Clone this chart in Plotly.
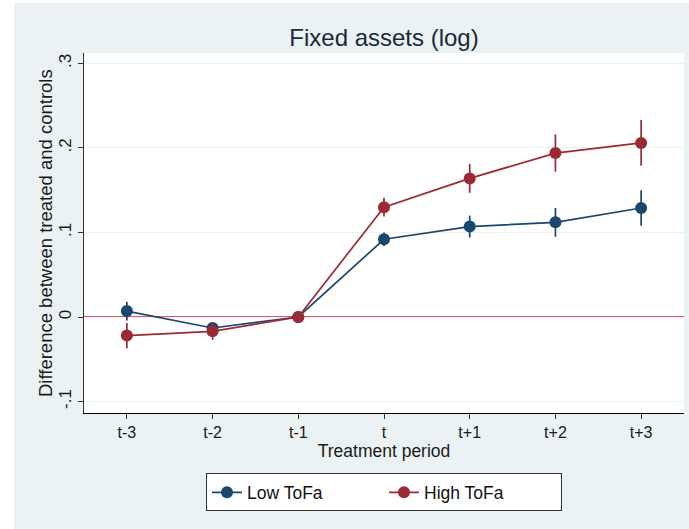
import plotly.graph_objects as go

periods = ["t-3", "t-2", "t-1", "t", "t+1", "t+2", "t+3"]
low_est = [0.007, -0.013, 0.0, 0.092, 0.107, 0.112, 0.129]
low_ci = [0.011, 0.005, 0.0, 0.008, 0.013, 0.017, 0.021]
high_est = [-0.022, -0.017, 0.0, 0.130, 0.164, 0.194, 0.206]
high_ci = [0.015, 0.010, 0.0, 0.011, 0.017, 0.022, 0.027]
y_ticks = [-0.1, 0, 0.1, 0.2, 0.3]
y_tick_labels = ["-.1", "0", ".1", ".2", ".3"]

NAVY = "#1a476f"
MAROON = "#9b2a35"
BG = "#eaf2f3"
FONT = "Liberation Sans, Arial, sans-serif"
TXT = "#1a1a1a"

x_idx = list(range(len(periods)))

fig = go.Figure()
fig.add_trace(go.Scatter(
    x=x_idx, y=low_est, mode="lines+markers", name="Low ToFa",
    line=dict(color=NAVY, width=1.7),
    marker=dict(color=NAVY, size=12, symbol="circle"),
    error_y=dict(type="data", array=low_ci, color=NAVY, thickness=1.7, width=0),
))
fig.add_trace(go.Scatter(
    x=x_idx, y=high_est, mode="lines+markers", name="High ToFa",
    line=dict(color=MAROON, width=1.7),
    marker=dict(color=MAROON, size=12, symbol="circle"),
    error_y=dict(type="data", array=high_ci, color=MAROON, thickness=1.7, width=0),
))

# reference line at zero
fig.add_shape(type="line", xref="paper", yref="y", x0=0, x1=1, y0=0, y1=0,
              line=dict(color="#dc1e35", width=1.7), layer="below")

# white outer strips (left and top)
fig.add_shape(type="rect", xref="paper", yref="paper",
              x0=-0.2, x1=-0.1167, y0=-0.5, y1=1.3,
              fillcolor="white", line=dict(width=0), layer="below")
fig.add_shape(type="rect", xref="paper", yref="paper",
              x0=-0.2, x1=1.1, y0=1.1389, y1=1.3,
              fillcolor="white", line=dict(width=0), layer="below")

# y-axis title placed as annotation for exact position
fig.add_annotation(text="Difference between treated and controls",
                   xref="paper", yref="paper", x=(45 - 84) / 600, y=0.5,
                   xanchor="center", yanchor="middle", textangle=-90, showarrow=False,
                   font=dict(size=18.5, family=FONT, color=TXT))

fig.update_layout(
    width=689, height=529,
    margin=dict(l=84, r=5, t=53, b=116, autoexpand=False),
    paper_bgcolor=BG, plot_bgcolor="white",
    font=dict(family=FONT, color=TXT, size=16),
    title=dict(text="Fixed assets (log)", x=384 / 689, xanchor="center",
               y=1 - 38 / 529, yanchor="middle",
               font=dict(size=24, color="#1a2a3a", family=FONT)),
    showlegend=True,
    legend=dict(orientation="h", x=0.5, xanchor="center", y=-0.168, yanchor="top",
                bgcolor="white", bordercolor="#333333", borderwidth=1,
                font=dict(size=17.5, family=FONT, color="#111111"),
                entrywidth=132, entrywidthmode="pixels", tracegroupgap=0),
)

fig.update_xaxes(
    range=[-0.5, 6.5], tickmode="array", tickvals=x_idx, ticktext=periods,
    showgrid=False, zeroline=False, showline=True, linecolor="#000000", linewidth=1.2,
    ticks="outside", ticklen=5, tickcolor="#333333",
    tickfont=dict(size=16, family=FONT, color=TXT),
    title=dict(text="Treatment period", standoff=1, font=dict(size=17.5, family=FONT, color=TXT)),
    automargin=False,
)
fig.update_yaxes(
    range=[-0.1136, 0.3124], tickmode="array", tickvals=y_ticks, ticktext=y_tick_labels,
    tickangle=-90,
    showgrid=True, gridcolor=BG, gridwidth=1, zeroline=False,
    showline=True, linecolor="#333333", linewidth=1.2,
    ticks="outside", ticklen=5, tickcolor="#333333",
    tickfont=dict(size=17, family=FONT, color=TXT),
    automargin=False,
)

fig.write_html(
    "out.html",
    config={"displayModeBar": False},
    post_script="document.body.style.margin='0';document.body.style.overflow='hidden';",
)
